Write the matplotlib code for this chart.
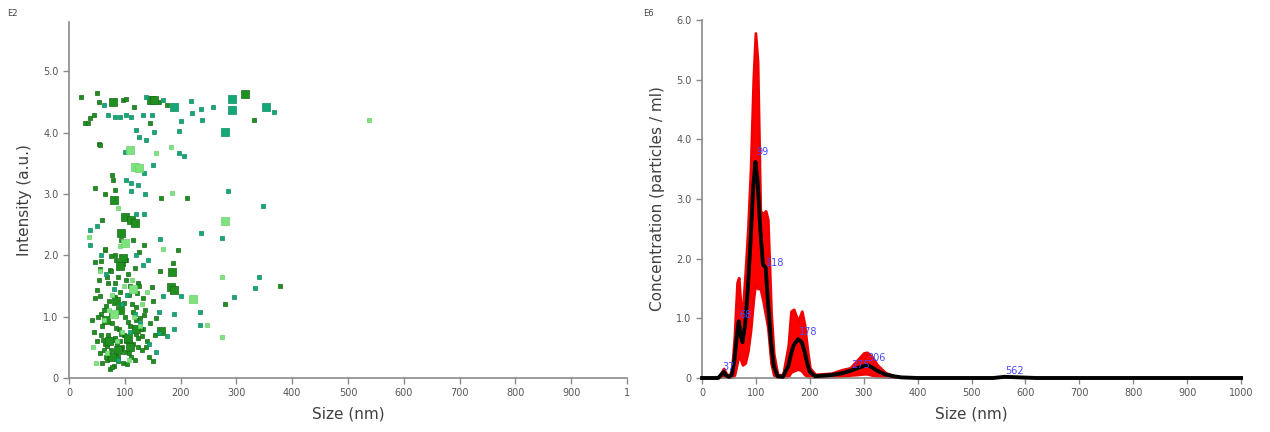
import matplotlib.pyplot as plt
import numpy as np

# ---- scatter (left panel): particle size vs intensity, grouped by shade / marker size
dark_x = [22, 50, 53, 79, 97, 103, 117, 161, 176, 29, 35, 38, 44, 146, 53, 56, 78, 79, 46, 65,
          82, 165, 212, 59, 100, 112, 118, 94, 93, 115, 135, 65, 76, 85, 103, 195, 47, 56, 73,
          91, 164, 186, 68, 82, 103, 124, 149, 50, 56, 279, 156, 150, 378, 316, 332,
          45, 50, 55, 60, 62, 65, 68, 70, 72, 75, 78, 80, 82, 85, 88, 90, 92, 95, 97, 100,
          103, 105, 108, 110, 113, 115, 118, 120, 123, 126, 130, 133, 136, 140, 143, 146, 150,
          155, 47, 53, 58, 64, 70, 76, 83, 88, 96, 102, 110, 118, 125, 132, 60, 74, 86, 42,
          98, 121, 138, 66, 84, 107, 129, 57, 92,
          63, 71, 79, 87, 94, 101, 109, 117, 124, 131, 67, 75, 83, 91, 99, 106, 114, 122,
          61, 69, 77, 85, 93, 104, 112, 120, 52, 58, 128, 135]
dark_y = [4.58, 4.64, 4.5, 4.5, 4.53, 4.54, 4.42, 4.5, 4.45, 4.16, 4.16, 4.23, 4.28, 4.16, 3.82,
          3.8, 3.31, 3.23, 3.1, 2.99, 3.06, 2.94, 2.94, 2.58, 2.63, 2.58, 2.52, 2.36, 2.25, 2.25,
          2.17, 2.09, 1.98, 1.93, 1.93, 2.08, 1.89, 1.77, 1.76, 1.82, 1.75, 1.87, 1.65, 1.55,
          1.6, 1.55, 1.49, 1.44, 1.33, 1.21, 0.98, 0.27, 1.5, 4.62, 4.2,
          0.75, 0.6, 0.4, 0.85, 1.1, 0.55, 0.3, 0.7, 1.25, 0.45, 0.9, 0.2, 0.65, 1.05, 0.35,
          0.8, 1.4, 0.5, 0.25, 1.0, 0.6, 1.7, 0.4, 0.85, 1.2, 0.55, 0.3, 0.95, 0.65, 1.5, 0.45,
          0.8, 1.1, 0.6, 0.35, 0.9, 1.25, 0.7, 1.3, 1.6, 1.9, 2.1, 1.55, 1.75, 2.0, 1.65, 1.85,
          2.2, 1.5, 1.8, 2.05, 1.3, 0.25, 0.15, 0.55, 0.95, 0.7, 1.15, 0.5, 0.35, 0.4, 1.35,
          0.8, 1.05, 0.6,
          0.45, 0.38, 0.62, 0.28, 0.72, 0.42, 0.58, 0.78, 0.5, 0.68, 1.18, 1.02, 1.32, 1.12,
          1.22, 0.92, 1.08, 1.38, 0.62, 0.52, 0.18, 0.82, 0.48, 0.22, 0.35, 0.72, 1.0, 0.7,
          0.98, 1.02]
dark_big_x = [79, 147, 153, 81, 100, 112, 118, 94, 91, 184, 182, 188, 165, 316, 72, 88, 105, 84,
              97, 66, 78, 92, 110, 120]
dark_big_y = [4.5, 4.53, 4.53, 2.9, 2.63, 2.58, 2.52, 2.36, 1.82, 1.72, 1.49, 1.43, 0.76, 4.62,
              0.6, 0.45, 0.65, 1.25, 1.95, 0.95, 0.35, 1.1, 0.5, 0.8]
teal_x = [62, 138, 168, 219, 221, 237, 259, 367, 70, 82, 91, 102, 112, 132, 149, 200, 239, 121,
          125, 138, 153, 197, 100, 197, 207, 134, 150, 103, 112, 124, 111, 136, 285, 348, 121,
          135, 51, 38, 37, 164, 237, 274, 121, 141, 132, 168, 200, 341, 334, 295, 234, 234,
          188, 188, 162, 161, 176, 156, 80, 95, 110, 128, 66, 104, 118, 143, 58, 88]
teal_y = [4.45, 4.58, 4.53, 4.51, 4.31, 4.39, 4.41, 4.33, 4.28, 4.25, 4.25, 4.28, 4.26, 4.28,
          4.28, 4.18, 4.2, 4.04, 3.93, 3.88, 4.01, 4.03, 3.69, 3.66, 3.61, 3.34, 3.47, 3.23,
          3.17, 3.15, 3.04, 3.0, 3.05, 2.8, 2.68, 2.68, 2.47, 2.41, 2.17, 2.26, 2.37, 2.28,
          2.01, 1.93, 1.84, 1.33, 1.34, 1.64, 1.46, 1.32, 1.07, 0.87, 1.05, 0.8, 1.08, 0.73,
          0.68, 0.43, 1.45, 1.2, 0.75, 0.9, 1.7, 1.35, 1.05, 0.55, 2.0, 0.3]
teal_big_x = [292, 292, 353, 188, 279]
teal_big_y = [4.54, 4.37, 4.41, 4.42, 4.01]
light_x = [538, 156, 182, 88, 168, 274, 247, 275, 185, 36, 48, 63, 77, 86, 99, 108, 116, 127,
           140, 55, 69, 92, 113, 131, 43, 72, 95]
light_y = [4.2, 3.66, 3.77, 2.77, 2.11, 1.64, 0.86, 0.66, 3.01, 2.3, 0.25, 0.95, 1.35, 0.6,
           1.5, 0.3, 1.0, 0.85, 1.4, 1.75, 0.4, 2.15, 1.6, 1.2, 0.5, 1.1, 0.75]
light_big_x = [109, 118, 126, 279, 223, 101, 115, 80]
light_big_y = [3.71, 3.44, 3.42, 2.56, 1.29, 2.2, 1.45, 1.05]

# ---- size distribution (right panel): mean and error band, E6 particles / ml
size_nm = [0, 30, 35, 40, 45, 50, 55, 60, 65, 68, 72, 75, 80, 85, 90, 95, 99, 103, 108, 113,
           118, 122, 128, 133, 140, 150, 160, 165, 170, 178, 185, 190, 195, 200, 210, 240,
           260, 275, 290, 300, 306, 315, 325, 340, 355, 370, 400, 540, 562, 590, 620, 1000]
conc_mean = [0, 0, 0.05, 0.1, 0.04, 0.02, 0.05, 0.3, 0.75, 0.95, 0.7, 0.6, 0.9, 1.5, 2.3, 3.2,
             3.62, 3.3, 2.5, 1.9, 1.85, 1.3, 0.6, 0.2, 0.03, 0.02, 0.2, 0.4, 0.55, 0.65, 0.6,
             0.45, 0.25, 0.1, 0.03, 0.05, 0.08, 0.12, 0.17, 0.2, 0.22, 0.18, 0.12, 0.06, 0.03,
             0.01, 0, 0, 0.02, 0.01, 0, 0]
conc_upper = [0, 0, 0.08, 0.16, 0.07, 0.04, 0.12, 0.7, 1.6, 1.68, 1.15, 1.1, 1.75, 2.5, 3.5,
              5.0, 5.78, 5.3, 2.8, 2.75, 2.8, 2.65, 1.1, 0.4, 0.06, 0.05, 0.55, 1.12, 1.15, 0.95,
              1.12, 0.9, 0.5, 0.17, 0.06, 0.08, 0.14, 0.17, 0.32, 0.42, 0.43, 0.36, 0.22, 0.09,
              0.04, 0.01, 0, 0, 0.03, 0.01, 0, 0]
conc_lower = [0, 0, 0.01, 0.03, 0.01, 0, 0.01, 0.05, 0.25, 0.4, 0.3, 0.22, 0.25, 0.45, 0.8, 1.3,
              1.6, 1.5, 1.5, 1.3, 1.05, 0.85, 0.25, 0.05, 0, 0, 0.03, 0.1, 0.12, 0.15, 0.12,
              0.06, 0.03, 0.01, 0.01, 0.02, 0.03, 0.05, 0.06, 0.07, 0.07, 0.05, 0.03, 0.02,
              0.01, 0, 0, 0, 0.01, 0, 0, 0]
peak_pos = [37, 68, 99, 118, 178, 275, 306, 562]
peak_txt = ["37", "68", "99", "118", "178", "275", "306", "562"]
peak_lbl_y = [0.1, 0.97, 3.7, 1.85, 0.68, 0.14, 0.25, 0.03]

tick_col = "#555555"
spine_col = "#8a8a8a"

fig = plt.figure(figsize=(12.7, 4.32), dpi=100)
ax1 = fig.add_axes([0.0543, 0.125, 0.4394, 0.824])
ax2 = fig.add_axes([0.5528, 0.125, 0.4244, 0.829])


def style_axes(ax, ylabel, ymax):
    for s in ["top", "right"]:
        ax.spines[s].set_visible(False)
    for s in ["left", "bottom"]:
        ax.spines[s].set_color(spine_col)
        ax.spines[s].set_linewidth(1.2)
    ax.set_xlim(0, 1000)
    ax.set_ylim(0, ymax)
    ax.set_xticks(range(0, 1001, 100))
    ax.set_yticks(np.arange(0, int(ymax) + 1, 1.0))
    ax.set_yticklabels(["0"] + ["%.1f" % v for v in range(1, int(ymax) + 1)])
    ax.tick_params(colors=spine_col, labelcolor=tick_col, labelsize=7, length=4, width=1)
    ax.set_xlabel("Size (nm)", fontsize=11, color="#404040", labelpad=6)
    ax.set_ylabel(ylabel, fontsize=11, color="#404040", labelpad=8)


# left: scatter
ax1.scatter(dark_x, dark_y, marker="s", s=10, color="#1f8f1f", edgecolors="#166b16", linewidths=0.5)
ax1.scatter(dark_big_x, dark_big_y, marker="s", s=26, color="#1f8f1f", edgecolors="#166b16", linewidths=0.5)
ax1.scatter(teal_x, teal_y, marker="s", s=9, color="#14a878", edgecolors="#0f8a60", linewidths=0.5)
ax1.scatter(teal_big_x, teal_big_y, marker="s", s=26, color="#14a878", edgecolors="#0f8a60", linewidths=0.5)
ax1.scatter(light_x, light_y, marker="s", s=9, color="#7ee37e", edgecolors="#6ccf6c", linewidths=0.5)
ax1.scatter(light_big_x, light_big_y, marker="s", s=30, color="#7ee37e", edgecolors="#6ccf6c", linewidths=0.5)
style_axes(ax1, "Intensity (a.u.)", 5.8)
ax1.set_yticks(np.arange(0, 6, 1.0))
ax1.set_yticklabels(["0", "1.0", "2.0", "3.0", "4.0", "5.0"])
xl = ["0"] + [str(v) for v in range(100, 1000, 100)] + ["1"]
ax1.set_xticklabels(xl)
fig.text(0.006, 0.962, "E2", fontsize=6, color="#444444")

# right: concentration distribution
ax2.fill_between(size_nm, conc_lower, conc_upper, color="#ff0000", edgecolor="#f00000",
                 linewidth=2.0)
ax2.plot(size_nm, conc_mean, color="black", linewidth=2.8, clip_on=False, zorder=3)
for px, py, t in zip(peak_pos, peak_lbl_y, peak_txt):
    ax2.text(px + 1, py, t, fontsize=7, color="#4848ff", ha="left", va="bottom", zorder=4)
style_axes(ax2, "Concentration (particles / ml)", 6.0)
ax2.set_xticklabels([str(v) for v in range(0, 1001, 100)])
fig.text(0.5065, 0.962, "E6", fontsize=6, color="#444444")

fig.savefig("out.png", dpi=100)
